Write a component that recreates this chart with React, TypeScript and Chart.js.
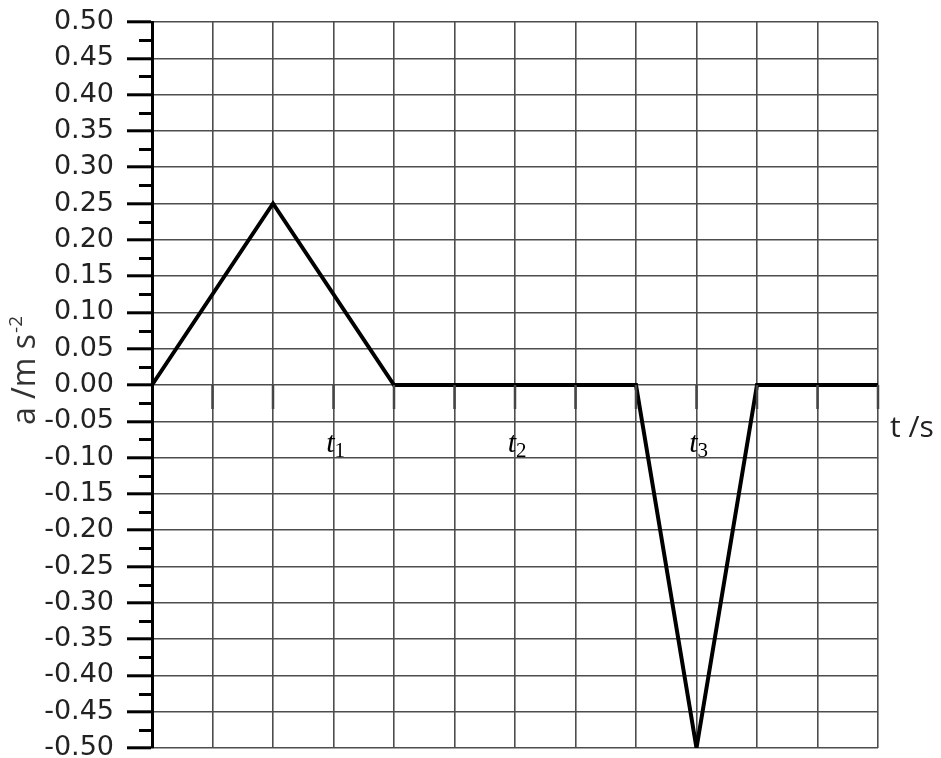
import React, { useEffect, useRef } from "react";
import { Chart, registerables } from "chart.js";

Chart.register(...registerables);

const timeValues = [0, 2, 4, 8, 9, 10, 12];
const accelValues = [0, 0.25, 0, 0, -0.5, 0, 0];
const yMin = -0.5;
const yMax = 0.5;
const yStep = 0.05;
const xMin = 0;
const xMax = 12;
const intervalNames = ["t", "t", "t"];
const intervalSubs = ["1", "2", "3"];
const intervalAt = [3, 6, 9];
const yTitleMain = "a /m s";
const yTitleSup = "-2";
const xTitle = "t /s";

const overlayPlugin = {
  id: "overlay",
  afterDraw(chart: any) {
    const { ctx, chartArea, scales } = chart;
    const xs = scales.x;
    const ys = scales.y;
    ctx.save();
    // minor y ticks
    ctx.strokeStyle = "#000";
    ctx.lineWidth = 3;
    ctx.beginPath();
    for (let v = yMin + yStep / 2; v < yMax; v += yStep) {
      const py = Math.round(ys.getPixelForValue(v)) + 0.5;
      ctx.moveTo(chartArea.left - 13, py);
      ctx.lineTo(chartArea.left, py);
    }
    ctx.stroke();
    // x ticks below zero line
    const y0 = ys.getPixelForValue(0);
    ctx.strokeStyle = "#444";
    ctx.lineWidth = 2.5;
    ctx.beginPath();
    for (let v = xMin + 1; v <= xMax; v += 1) {
      const px = xs.getPixelForValue(v);
      ctx.moveTo(px, y0);
      ctx.lineTo(px, y0 + 24);
    }
    ctx.stroke();
    // interval labels
    ctx.fillStyle = "#000";
    ctx.textBaseline = "alphabetic";
    intervalAt.forEach((v, i) => {
      const px = xs.getPixelForValue(v);
      ctx.font = "italic 30px 'Liberation Serif'";
      ctx.textAlign = "right";
      ctx.fillText(intervalNames[i], px + 1, y0 + 67);
      ctx.font = "21px 'Liberation Serif'";
      ctx.textAlign = "left";
      ctx.fillText(intervalSubs[i], px + 1, y0 + 72);
    });
    // x title
    ctx.fillStyle = "#222";
    ctx.font = "30px 'Open Sans'";
    ctx.textAlign = "left";
    ctx.fillText(xTitle, chartArea.right + 12, y0 + 52);
    // y title (rotated)
    ctx.save();
    ctx.translate(35, y0 + 40);
    ctx.rotate(-Math.PI / 2);
    ctx.fillStyle = "#333";
    ctx.font = "32px 'Open Sans'";
    ctx.textAlign = "left";
    ctx.fillText(yTitleMain, 0, 0);
    const w = ctx.measureText(yTitleMain).width;
    ctx.font = "19px 'Open Sans'";
    ctx.fillText(yTitleSup, w + 1, -13);
    ctx.restore();
    ctx.restore();
  },
};

export default function App() {
  const ref = useRef<HTMLCanvasElement>(null);
  useEffect(() => {
    document.body.style.margin = "0";
    const chart = new Chart(ref.current as HTMLCanvasElement, {
      type: "line",
      data: {
        datasets: [
          {
            data: timeValues.map((t, i) => ({ x: t, y: accelValues[i] })),
            borderColor: "#000",
            borderWidth: 4,
            borderJoinStyle: "miter",
            pointRadius: 0,
            tension: 0,
            fill: false,
          },
        ],
      },
      options: {
        responsive: false,
        animation: false,
        layout: { padding: { top: 22, right: 63, bottom: 10, left: 0 } },
        plugins: { legend: { display: false }, tooltip: { enabled: false } },
        scales: {
          x: {
            type: "linear",
            min: xMin,
            max: xMax,
            ticks: { stepSize: 1, display: false },
            grid: { color: "#4d4d4d", lineWidth: 1.6, drawTicks: false },
            border: { display: false },
            afterFit: (s: any) => {
              s.height = 0;
              s.paddingLeft = 0;
              s.paddingRight = 0;
            },
          },
          y: {
            type: "linear",
            min: yMin,
            max: yMax,
            ticks: {
              stepSize: yStep,
              padding: 13,
              color: "#222",
              font: { family: "'DejaVu Sans'", size: 27 },
              callback: (v: any) => {
                const s = Number(v).toFixed(2);
                return s === "-0.00" ? "0.00" : s;
              },
            },
            grid: {
              color: "#4d4d4d",
              lineWidth: 1.6,
              tickLength: 25,
              tickColor: "#000",
              tickWidth: 3,
            },
            border: { display: true, color: "#000", width: 3 },
            title: { display: false },
            afterFit: (s: any) => {
              s.width = 152;
              s.paddingTop = 0;
              s.paddingBottom = 0;
            },
          },
        },
      },
      plugins: [overlayPlugin],
    } as any);
    return () => chart.destroy();
  }, []);
  return <canvas ref={ref} width={941} height={758} style={{ display: "block" }} />;
}
